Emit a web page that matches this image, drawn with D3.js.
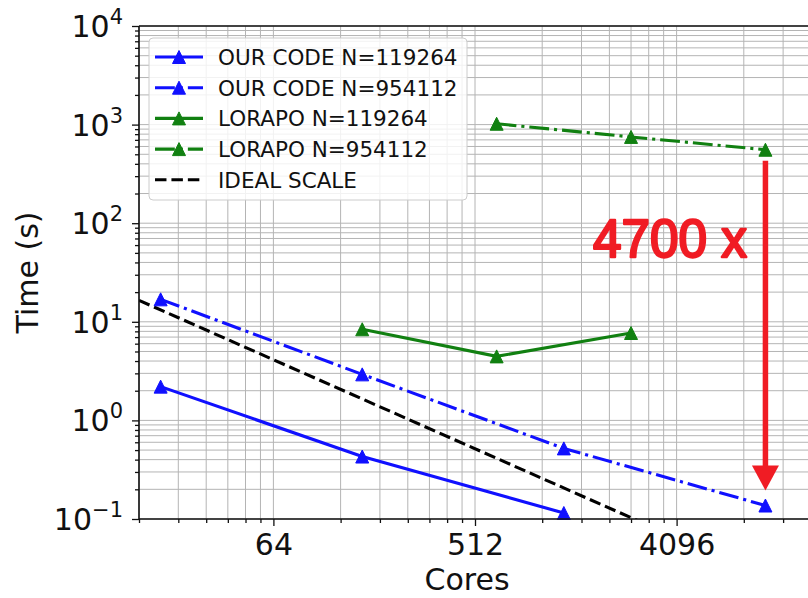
<!DOCTYPE html>
<html>
<head>
<meta charset="utf-8">
<script src="https://cdn.jsdelivr.net/npm/d3@7"></script>
<style>
  html, body { margin: 0; padding: 0; background: #fff; }
  svg { display: block; }
  text { font-family: "DejaVu Sans", sans-serif; fill: #111; }
</style>
</head>
<body>
<svg id="chart" width="808" height="598"></svg>
<script>
// Strong-scaling timings (seconds) against core count
const ourSmallCores = [20, 160, 1280];
const ourSmallTime = [2.2, 0.43, 0.115];
const ourLargeCores = [20, 160, 1280, 10240];
const ourLargeTime = [16.9, 2.93, 0.52, 0.137];
const lorapoSmallCores = [160, 640, 2560];
const lorapoSmallTime = [8.4, 4.46, 7.7];
const lorapoLargeCores = [640, 2560, 10240];
const lorapoLargeTime = [1020, 750, 556];
const idealCores = [16, 4096];
const idealTime = [16.5, 0.0645];

const seriesNames = ["OUR CODE N=119264", "OUR CODE N=954112", "LORAPO N=119264", "LORAPO N=954112", "IDEAL SCALE"];

const xMajorTicks = [64, 512, 4096];
const xMinorTicks = [16, 24, 32, 40, 48, 56, 128, 192, 256, 320, 384, 448,
                     1024, 1536, 2048, 2560, 3072, 3584, 8192, 12288];
const yMajorTicks = [0.1, 1, 10, 100, 1000, 10000];
const yMinorTicks = [];
[0.1, 1, 10, 100, 1000].forEach(d => { for (let k = 2; k <= 9; k++) yMinorTicks.push(+(d * k).toPrecision(3)); });

// Speed-up annotation between the two largest runs
const annotCores = 10240;
const annotFrom = 430;
const annotTo = 0.195;
const annotLabel = "4700 x";

const svg = d3.select("#chart");
const m = { left: 139, right: 811, top: 26, bottom: 519 };

const x = d3.scaleLog().base(2).domain([16, 16384]).range([m.left, m.right]);
const y = d3.scaleLog().base(10).domain([0.1, 10000]).range([m.bottom, m.top]);

svg.append("defs").append("clipPath").attr("id", "plotclip")
  .append("rect").attr("x", m.left).attr("y", m.top)
  .attr("width", m.right - m.left).attr("height", m.bottom - m.top);

// grid (major + minor on both axes)
const grid = svg.append("g").attr("stroke", "#b4b4b4").attr("stroke-width", 1);
xMajorTicks.concat(xMinorTicks).forEach(v => {
  grid.append("line").attr("x1", x(v)).attr("x2", x(v)).attr("y1", m.top).attr("y2", m.bottom);
});
yMajorTicks.concat(yMinorTicks).forEach(v => {
  grid.append("line").attr("x1", m.left).attr("x2", m.right).attr("y1", y(v)).attr("y2", y(v));
});

// axes with ticks
const xAxis = d3.axisBottom(x).tickValues(xMajorTicks).tickSize(7).tickPadding(6).tickFormat(d3.format("d"));
const xAxisMinor = d3.axisBottom(x).tickValues(xMinorTicks).tickSize(4).tickFormat("");
const yAxis = d3.axisLeft(y).tickValues(yMajorTicks).tickSize(7).tickFormat("");
const yAxisMinor = d3.axisLeft(y).tickValues(yMinorTicks).tickSize(4).tickFormat("");

function styleAxis(g) {
  g.select(".domain").remove();
  g.selectAll(".tick line").attr("stroke", "#111").attr("stroke-width", 1.3);
}
const gx = svg.append("g").attr("transform", `translate(0,${m.bottom})`).call(xAxis).call(styleAxis);
gx.selectAll(".tick text").attr("font-size", 30).attr("fill", "#111").attr("dy", "0.76em");
svg.append("g").attr("transform", `translate(0,${m.bottom})`).call(xAxisMinor).call(styleAxis);
svg.append("g").attr("transform", `translate(${m.left},0)`).call(yAxis).call(styleAxis);
svg.append("g").attr("transform", `translate(${m.left},0)`).call(yAxisMinor).call(styleAxis);

// y tick labels as powers of ten
yMajorTicks.forEach(v => {
  const e = Math.round(Math.log10(v));
  const t = svg.append("text").attr("x", 123).attr("y", y(v) + 11)
    .attr("text-anchor", "end").attr("font-size", 30).text("10");
  t.append("tspan").attr("dy", -13).attr("font-size", 21).text(e < 0 ? "\u2212" + Math.abs(e) : String(e));
});

// axis titles
svg.append("text").attr("x", (m.left + 811) / 2 - 8).attr("y", 590).attr("text-anchor", "middle")
  .attr("font-size", 30).text("Cores");
svg.append("text").attr("transform", `translate(38,${(m.top + m.bottom) / 2}) rotate(-90)`)
  .attr("text-anchor", "middle").attr("font-size", 30).text("Time (s)");

// data series
const LW = 3.1;
const blue = "#1010ff", green = "#118011";
const dashDot = [6.4 * LW, 1.6 * LW, 1 * LW, 1.6 * LW].join(",");
const dashed = [3.7 * LW, 1.6 * LW].join(",");
const series = [
  { name: seriesNames[0], cores: ourSmallCores, time: ourSmallTime, color: blue, dash: null, marker: true },
  { name: seriesNames[1], cores: ourLargeCores, time: ourLargeTime, color: blue, dash: dashDot, marker: true },
  { name: seriesNames[2], cores: lorapoSmallCores, time: lorapoSmallTime, color: green, dash: null, marker: true },
  { name: seriesNames[3], cores: lorapoLargeCores, time: lorapoLargeTime, color: green, dash: dashDot, marker: true },
  { name: seriesNames[4], cores: idealCores, time: idealTime, color: "#000", dash: dashed, marker: false }
];

const line = d3.line().x(d => x(d[0])).y(d => y(d[1]));
const MS = 13;
function triPath(s) {
  return `M0,${-s / 2}L${s / 2},${s / 2}L${-s / 2},${s / 2}Z`;
}

const plot = svg.append("g").attr("clip-path", "url(#plotclip)");
// ideal line first so measured series sit on top
[4, 0, 1, 2, 3].forEach(i => {
  const s = series[i];
  const pts = s.cores.map((c, j) => [c, s.time[j]]);
  plot.append("path").attr("d", line(pts)).attr("fill", "none")
    .attr("stroke", s.color).attr("stroke-width", LW)
    .attr("stroke-dasharray", s.dash);
});
// triangle markers (unclipped so they can overlap the frame)
[0, 1, 2, 3].forEach(i => {
  const s = series[i];
  s.cores.forEach((c, j) => {
    svg.append("path").attr("d", triPath(MS))
      .attr("transform", `translate(${x(c)},${y(s.time[j])})`)
      .attr("fill", s.color).attr("stroke", s.color).attr("stroke-width", 1);
  });
});

// frame
const frame = svg.append("g").attr("stroke", "#111").attr("stroke-width", 1.6);
frame.append("line").attr("x1", m.left).attr("x2", m.left).attr("y1", m.top).attr("y2", m.bottom);
frame.append("line").attr("x1", m.left).attr("x2", m.right).attr("y1", m.bottom).attr("y2", m.bottom);
frame.append("line").attr("x1", m.left).attr("x2", m.right).attr("y1", m.top).attr("y2", m.top);
frame.append("line").attr("x1", m.right).attr("x2", m.right).attr("y1", m.top).attr("y2", m.bottom);

// legend
const lg = svg.append("g");
lg.append("rect").attr("x", 149).attr("y", 38).attr("width", 318).attr("height", 162)
  .attr("rx", 4).attr("fill", "#fff").attr("fill-opacity", 0.82).attr("stroke", "#cccccc").attr("stroke-width", 1);
series.forEach((s, i) => {
  const cy = 57 + i * 30.7;
  lg.append("line").attr("x1", 155).attr("x2", 203).attr("y1", cy).attr("y2", cy)
    .attr("stroke", s.color).attr("stroke-width", LW).attr("stroke-dasharray", s.dash);
  if (s.marker) {
    lg.append("path").attr("d", triPath(MS)).attr("transform", `translate(179,${cy})`)
      .attr("fill", s.color).attr("stroke", s.color).attr("stroke-width", 1);
  }
  lg.append("text").attr("x", 218).attr("y", cy + 8).attr("font-size", 21.5).text(s.name);
});

// speed-up arrow and label
const red = "#f01c24";
const ax = x(annotCores), ay0 = y(annotFrom), ay1 = y(annotTo);
const headLen = 25, headW = 27;
svg.append("line").attr("x1", ax).attr("x2", ax).attr("y1", ay0).attr("y2", ay1 - headLen + 2)
  .attr("stroke", red).attr("stroke-width", 5.5);
svg.append("path").attr("d", `M${ax},${ay1}L${ax - headW / 2},${ay1 - headLen}L${ax + headW / 2},${ay1 - headLen}Z`)
  .attr("fill", red);
svg.append("text").attr("x", 593).attr("y", 257)
  .attr("textLength", 154).attr("lengthAdjust", "spacingAndGlyphs")
  .style("font-family", "'Liberation Sans', Arial, sans-serif")
  .style("font-size", "53px").style("fill", red)
  .style("stroke", red).style("stroke-width", "2.4px").style("stroke-linejoin", "round")
  .text(annotLabel);
</script>
</body>
</html>
